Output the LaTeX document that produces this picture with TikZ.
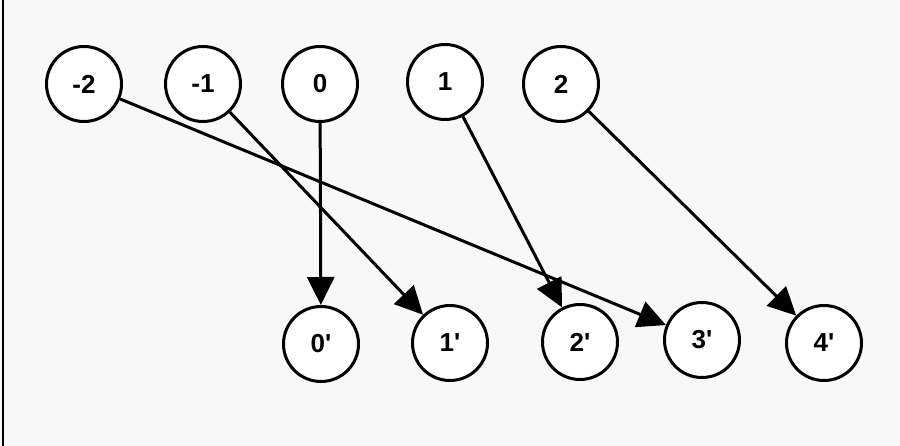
\documentclass[tikz,border=0pt]{standalone}
\usepackage{fontspec}
\newfontfamily\nodefont{Liberation Sans}
\usetikzlibrary{arrows.meta}
\definecolor{bg}{HTML}{F8F8F8}
\begin{document}
\begin{tikzpicture}[x=1pt,y=-1pt,
  num/.style={circle,draw,line width=3pt,fill=white,minimum size=75pt,inner sep=0pt,
    font=\nodefont\bfseries\fontsize{26}{28}\selectfont},
  conn/.style={line width=3pt,-{Triangle[length=28pt,width=27pt]}}]
\fill[bg] (0,0) rectangle (900,446);
\useasboundingbox (0,0) rectangle (900,446);
\draw[line width=2.5pt] (3,0) -- (3,446);
% top row
\node[num] (m2) at (84,84) {-2};
\node[num] (m1) at (203,84) {-1};
\node[num] (t0) at (320,84) {0};
\node[num] (t1) at (445,82) {1};
\node[num] (t2) at (561,84) {2};
% bottom row
\node[num] (b0) at (321,344) {0'};
\node[num] (b1) at (450,343) {1'};
\node[num] (b2) at (580,342) {2'};
\node[num] (b3) at (702,340) {3'};
\node[num] (b4) at (824,343) {4'};
% connectors
\draw[conn] (m2) -- (b3);
\draw[conn] (m1) -- (b1);
\draw[conn] (t0) -- (b0);
\draw[conn] (t1) -- (b2);
\draw[conn] (t2) -- (b4);
\end{tikzpicture}
\end{document}
